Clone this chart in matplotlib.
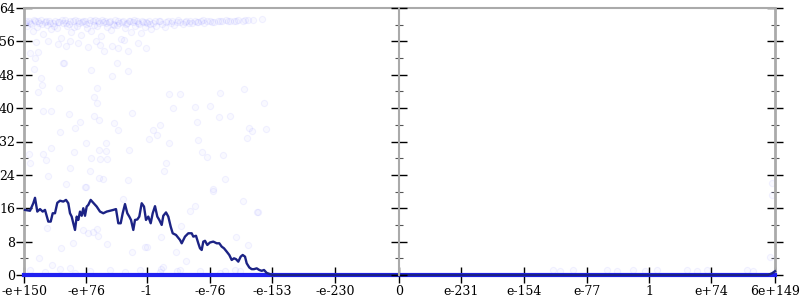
import matplotlib
matplotlib.use('Agg')
import matplotlib.pyplot as plt
from matplotlib.ticker import MultipleLocator

plt.rcParams['font.family'] = ['DejaVu Serif']

# x 轴刻度位置与标签
tick_pos = [24, 86, 147, 210, 272, 335, 399, 461, 524, 587, 649, 711, 775]
tick_labels = ['-e+150', '-e+76', '-1', '-e-76', '-e-153', '-e-230', '0',
               'e-231', 'e-154', 'e-77', '1', 'e+74', '6e+149']

# 折线(深蓝)
line_x = [25, 30, 33.3, 35, 37.3, 40, 42.7, 45, 48.3, 50.7, 52.7, 55, 57.3, 60, 63.3, 66,
          68.3, 70, 71.7, 73.3, 75, 76.7, 78.3, 80, 81.7, 83.3, 85, 86.7, 88.3, 90.7, 93.3,
          96.7, 100, 103.3, 106.7, 110, 113.3, 116, 118.3, 120.7, 122.7, 125, 127.3, 129.3,
          131, 133.3, 135, 137.3, 139.3, 141.7, 144, 146, 148.3, 150.7, 152.7, 155, 157.3,
          159.3, 161.7, 163.3, 166, 168.3, 170.7, 172.7, 176, 180, 181.7, 185, 188.3, 191.7,
          193.3, 196, 198.3, 200, 201.7, 203.3, 205, 207.3, 210, 213.3, 216.7, 219.3, 221.7,
          224, 226.7, 229.3, 231.7, 234, 236, 238.3, 240.7, 242.7, 245, 246.7, 249.3, 251.7,
          254, 256.7, 259.3, 261.7, 264, 266.7, 270, 272, 768, 772, 775]
line_y = [15.6, 15.4, 17.2, 18.5, 15.2, 15.8, 15.2, 15.6, 12.8, 12.8, 14.8, 14.8, 17.3, 17.8,
          17.6, 18.0, 17.2, 14.8, 14.0, 12.4, 10.8, 14.0, 13.2, 15.2, 14.2, 16.0, 14.2, 16.4,
          16.8, 18.0, 17.3, 16.4, 15.2, 14.8, 15.2, 15.4, 15.6, 15.8, 12.4, 12.4, 14.8, 17.0,
          14.8, 14.0, 13.2, 10.8, 13.2, 13.3, 14.0, 17.2, 16.4, 13.2, 14.0, 12.4, 14.8, 16.5,
          14.0, 13.2, 12.0, 14.2, 15.0, 14.0, 11.6, 10.0, 9.6, 8.4, 7.6, 9.2, 10.0, 10.0, 9.2,
          9.4, 7.6, 6.4, 6.0, 8.0, 8.2, 7.2, 7.8, 8.0, 7.6, 7.6, 6.8, 6.4, 5.6, 4.8, 3.6, 4.0,
          3.8, 3.2, 4.4, 4.8, 4.4, 2.8, 1.8, 1.4, 1.4, 1.6, 1.2, 1.0, 1.2, 0.5, 0.2, 0.0, 0.0,
          0.4, 0.9]

# 散点(浅蓝,半透明)
band_x = [25, 27, 29, 31, 33, 35, 37, 39, 41, 43, 45, 47, 49, 51, 53, 55, 57, 59, 61, 63, 65,
          67, 69, 71, 73, 75, 77, 79, 81, 83, 85, 87, 89, 91, 93, 95, 97, 99, 101, 103, 105,
          107, 109, 111, 113, 115, 117, 119, 121, 123, 125, 127, 129, 131, 133, 135, 137, 139,
          141, 143, 145, 147, 149, 151, 153, 156, 159, 162, 165, 168, 171, 174, 177, 180, 183,
          186, 189, 192, 195, 198, 201, 204, 207, 210, 214, 218, 222, 226, 230, 234, 238, 243,
          248, 253, 262,
          26, 30, 34, 38, 42, 46, 50, 54, 58, 62, 66, 70, 74, 78, 82, 86, 90, 94, 98, 102, 106,
          110, 114, 118, 122, 126, 130, 134, 138, 142, 146, 150, 155, 160, 166, 172, 178, 185,
          190, 197, 203, 212, 220, 228, 236, 245,
          36, 48, 58, 66, 78, 88, 96, 104, 112, 118, 128, 138, 146, 30, 70, 100, 124]
band_y = [60.5, 59.8, 61.0, 60.2, 58.5, 60.8, 59.5, 60.4, 61.1, 57.8, 60.6, 59.9, 60.9, 58.9,
          60.3, 61.0, 59.2, 60.7, 56.8, 60.5, 61.1, 59.6, 60.2, 58.3, 60.9, 61.2, 59.8, 60.4,
          57.5, 60.8, 61.0, 59.1, 60.5, 58.6, 60.9, 61.2, 59.7, 60.3, 57.2, 60.7, 61.0, 59.4,
          60.6, 58.8, 60.2, 61.1, 59.9, 60.5, 56.5, 60.8, 59.3, 60.4, 61.0, 58.2, 60.6, 59.7,
          60.9, 60.1, 57.9, 60.7, 59.5, 60.3, 61.0, 58.9, 60.5, 59.8, 60.8, 60.2, 59.4, 60.9,
          60.4, 59.9, 60.7, 60.6, 60.1, 60.9, 60.5, 60.3, 61.0, 60.6, 60.8, 60.4, 60.9, 61.0,
          60.7, 61.0, 60.8, 61.1, 60.9, 61.0, 61.2, 61.0, 61.1, 61.2, 61.3,
          60.9, 60.4, 61.2, 60.9, 60.1, 61.0, 60.5, 59.7, 60.6, 61.2, 60.3, 60.9, 59.4, 61.0,
          60.6, 60.2, 61.1, 60.0, 60.8, 61.2, 60.4, 60.9, 59.9, 61.0, 60.6, 60.2, 60.8, 61.1,
          60.4, 60.9, 60.6, 60.2, 60.9, 61.0, 60.6, 60.9, 61.1, 60.6, 60.9, 60.7, 61.1, 60.6,
          60.9, 60.9, 60.8, 61.1,
          55.8, 56.2, 55.3, 54.8, 55.6, 54.6, 56.1, 53.8, 55.0, 54.5, 53.6, 55.5, 54.3, 53.3,
          56.0, 55.2, 56.3]

spread_x = [34.3, 63.7, 117.3, 91, 128.3, 41, 111.7, 42.3, 59.3, 96.7, 38.3, 94, 168.7, 179.7,
            219.7, 244.3, 97, 264, 43.3, 51, 173, 194.7, 210.3, 132, 68.7, 93.7, 218.7, 229.7,
            79.7, 99.3, 113.7, 196.7, 159.7, 75, 118, 152.7, 248.7, 266.3, 60.3, 157, 252,
            149.3, 197.7, 247.3, 86, 106, 168.7, 51, 98.7, 106, 129, 74.3, 202.3, 29, 43.3, 223,
            91.3, 100, 107, 46.3, 207.3, 30.3, 70.3, 166, 90.3, 164.3, 48.3, 99, 102.7, 127.7,
            224.7, 66.3, 85, 212.7, 38.3, 35, 63.3,
            46.7, 60.7, 72.7, 83.3, 88.3, 93.3, 97.3, 98.3, 106.7, 39.3, 51.7, 70, 123.3, 86,
            131.7, 145, 213.3, 243.3, 195, 190, 257.7, 181, 160.7, 235.7, 248.3, 146.7, 175.7,
            185.7, 163.3, 161, 176.7, 225, 235, 256.7,
            30, 45, 60, 75, 90, 110, 125, 140, 160, 180, 200, 220, 240, 553, 560, 573, 607, 617,
            633, 645, 657, 687, 697, 707, 747, 753, 772, 772, 770]
spread_y = [49.3, 50.9, 50.9, 49.2, 48.9, 47.2, 47.7, 45.5, 44.8, 44.8, 43.8, 42.6, 43.5, 43.3,
            43.6, 44.5, 41.2, 41.2, 39.3, 39.3, 40.0, 40.2, 40.6, 38.8, 38.6, 38.2, 37.8, 38.1,
            36.6, 37.2, 36.4, 36.7, 35.9, 35.3, 34.8, 34.7, 35.3, 35.1, 34.2, 33.6, 34.4, 32.7,
            32.3, 32.8, 31.7, 31.7, 31.6, 30.4, 29.9, 29.8, 29.9, 29.4, 29.4, 28.9, 29.1, 28.8,
            28.1, 27.9, 27.9, 27.5, 28.2, 26.9, 25.7, 26.8, 24.9, 24.9, 23.7, 23.2, 23.0, 22.7,
            23.0, 21.8, 21.1, 20.6, 53.5, 52.0, 50.9,
            11.3, 6.4, 7.6, 10.8, 10.0, 10.4, 11.0, 9.4, 7.4, 4.0, 2.4, 1.6, 18.2, 21.2, 5.6,
            6.8, 20.1, 17.7, 16.6, 15.3, 15.2, 11.8, 9.2, 9.1, 7.2, 6.8, 5.6, 3.4, 2.0, 1.4,
            1.0, 1.0, 1.2, 15.2,
            1.2, 0.8, 1.5, 0.5, 1.0, 1.3, 0.7, 1.1, 0.6, 1.2, 0.9, 0.4, 1.0, 1.2, 1.0, 1.2, 1.1,
            1.0, 1.2, 1.0, 1.1, 1.2, 1.0, 1.1, 1.2, 0.9, 22.0, 19.2, 4.4]

fig = plt.figure(figsize=(8, 3), dpi=100)
ax = fig.add_axes([24 / 800, 25 / 300, 751 / 800, 267 / 300])

# 散点(很淡)
dot_kw = dict(s=20, facecolor=(0.35, 0.35, 1.0, 0.035), edgecolor=(0.35, 0.35, 1.0, 0.07),
              linewidths=0.8, zorder=2)
ax.scatter(band_x, band_y, **dot_kw)
ax.scatter(spread_x, spread_y, **dot_kw)

# 零线(亮蓝)和折线(深蓝)
ax.plot([tick_pos[0], tick_pos[-1]], [0, 0], color='#2020f0', lw=3, clip_on=False, zorder=3)
ax.plot(line_x, line_y, color='#1c2385', lw=1.7, clip_on=False, zorder=4)

ax.set_xlim(tick_pos[0], tick_pos[-1])
ax.set_ylim(0, 64)

# 边框
for side in ['left', 'right']:
    ax.spines[side].set_color('#aaaaaa')
    ax.spines[side].set_linewidth(2)
ax.spines['top'].set_color('#aaaaaa')
ax.spines['top'].set_linewidth(1.5)
ax.spines['bottom'].set_visible(False)

ax.set_xticks(tick_pos)
ax.set_xticklabels(tick_labels)
ax.yaxis.set_major_locator(MultipleLocator(8))
ax.yaxis.set_minor_locator(MultipleLocator(4))
ax.tick_params(axis='x', direction='inout', length=12, width=1, labelsize=9, pad=1)
ax.tick_params(axis='y', which='major', direction='inout', length=12, width=1,
               labelsize=9, right=True, pad=0.5)
ax.tick_params(axis='y', which='minor', direction='inout', length=6, width=0.8,
               right=True, color='#555555')

# 中间的竖轴
mid = fig.add_axes([399 / 800, 25 / 300, 0.0001, 267 / 300])
mid.set_ylim(0, 64)
mid.patch.set_visible(False)
for side in ['top', 'bottom', 'right']:
    mid.spines[side].set_visible(False)
mid.spines['left'].set_color('#aaaaaa')
mid.spines['left'].set_linewidth(1.5)
mid.set_xticks([])
mid.yaxis.set_major_locator(MultipleLocator(8))
mid.yaxis.set_minor_locator(MultipleLocator(4))
mid.tick_params(axis='y', which='major', direction='inout', length=12, width=1, labelleft=False)
mid.tick_params(axis='y', which='minor', direction='inout', length=6, width=0.8,
                color='#555555', labelleft=False)

fig.savefig('out.png', dpi=100)
